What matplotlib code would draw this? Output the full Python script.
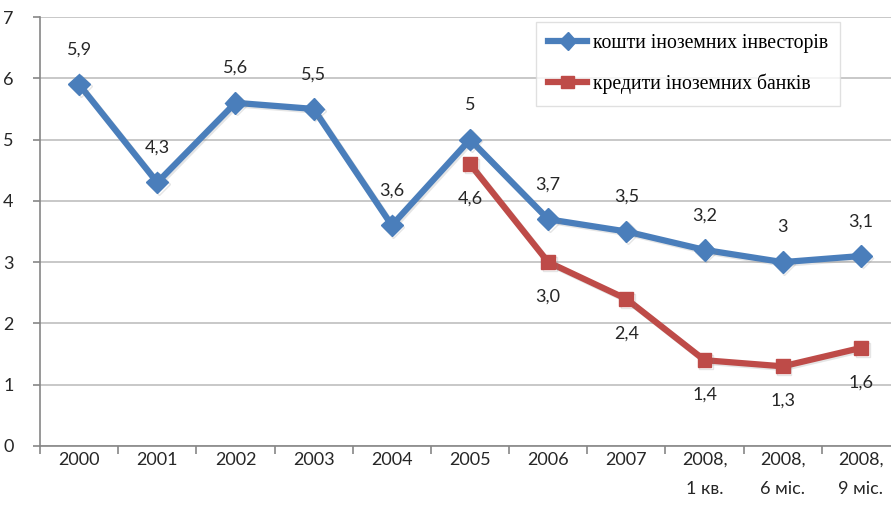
import matplotlib
matplotlib.use("Agg")
import matplotlib.pyplot as plt
import matplotlib.patheffects as pe
from matplotlib.font_manager import FontProperties
import numpy as np

categories = ["2000", "2001", "2002", "2003", "2004", "2005", "2006", "2007",
              "2008,\n1 кв.", "2008,\n6 міс.", "2008,\n9 міс."]
investors = [5.9, 4.3, 5.6, 5.5, 3.6, 5.0, 3.7, 3.5, 3.2, 3.0, 3.1]
investors_labels = ["5,9", "4,3", "5,6", "5,5", "3,6", "5", "3,7", "3,5", "3,2", "3", "3,1"]
banks = [None, None, None, None, None, 4.6, 3.0, 2.4, 1.4, 1.3, 1.6]
banks_labels = ["", "", "", "", "", "4,6", "3,0", "2,4", "1,4", "1,3", "1,6"]
series_names = ["кошти іноземних інвесторів", "кредити іноземних банків"]
yticks = [0, 1, 2, 3, 4, 5, 6, 7]

blue = "#4A7EBB"
red = "#BE4B48"
grid_c = "#BFBFBF"
num_font = "Lato"

fig = plt.figure(figsize=(8.91, 5.19), dpi=100)
ax = fig.add_axes([40/891, 1-446/519, 860/891, 429/519])

x = np.arange(len(categories))
ax.set_xlim(-0.5, len(categories)-0.5)
ax.set_ylim(0, 7)

shadow = [pe.SimpleLineShadow(offset=(1.2, -1.2), shadow_color="gray", alpha=0.2), pe.Normal()]

l1, = ax.plot(x, investors, color=blue, lw=4.5, marker="D", ms=11, mfc=blue, mec=blue,
              zorder=3, path_effects=shadow, label=series_names[0])
bx = [xi for xi, v in zip(x, banks) if v is not None]
bv = [v for v in banks if v is not None]
l2, = ax.plot(bx, bv, color=red, lw=4.5, marker="s", ms=10, mfc=red, mec=red,
              zorder=3, path_effects=shadow, label=series_names[1])

for xi, v, t in zip(x, investors, investors_labels):
    ax.annotate(t, (xi, v), xytext=(0, 25), textcoords="offset points",
                ha="center", va="center", fontsize=13, family=num_font, color="#262626")
for xi, v, t in zip(x, banks, banks_labels):
    if v is None:
        continue
    ax.annotate(t, (xi, v), xytext=(0, -25), textcoords="offset points",
                ha="center", va="center", fontsize=13, family=num_font, color="#262626")

ax.set_yticks(yticks)
ax.set_yticklabels([str(t) for t in yticks], family=num_font, fontsize=13, color="#262626")
ax.yaxis.grid(True, color=grid_c, lw=1.2)
ax.set_axisbelow(True)

ax.set_xticks(x)
ax.set_xticklabels(categories, family=num_font, fontsize=13, color="#262626", linespacing=2.0)
ax.tick_params(axis="x", length=0, pad=4)
ax.set_xticks(np.arange(len(categories)+1) - 0.5, minor=True)
ax.tick_params(axis="x", which="minor", length=6, color="#868686", width=1.2)
ax.tick_params(axis="y", length=5, color="#868686", width=1.2, pad=14)

for s in ["top", "right"]:
    ax.spines[s].set_visible(False)
for s in ["left", "bottom"]:
    ax.spines[s].set_color("#868686")
    ax.spines[s].set_linewidth(1.2)

leg_font = FontProperties(family="Liberation Serif", size=14.2)
leg = fig.legend(handles=[l1, l2], loc="upper left", bbox_to_anchor=(536/891, 1-22/519),
                 prop=leg_font, frameon=True, fancybox=False,
                 handlelength=2.0, labelspacing=1.05, borderpad=0.6, handletextpad=0.3,
                 borderaxespad=0)
leg.get_frame().set_edgecolor("#D9D9D9")
leg.get_frame().set_linewidth(1.0)
for h in leg.legend_handles:
    h.set_path_effects([pe.Normal()])
    h.set_markersize(9)

fig.savefig("out.png", dpi=100)
